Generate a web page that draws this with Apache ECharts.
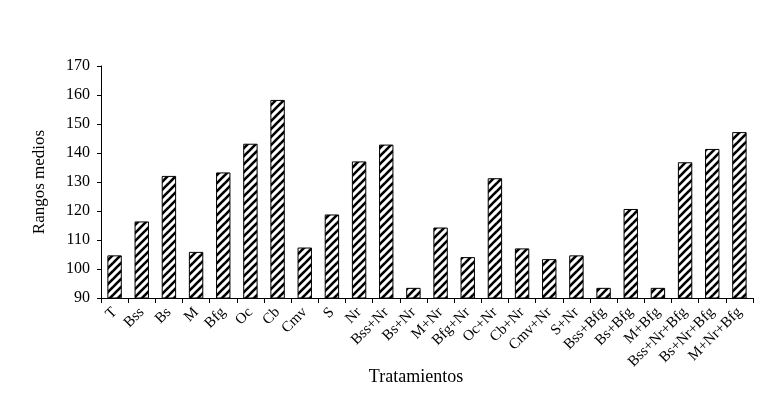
<!DOCTYPE html>
<html><head><meta charset="utf-8">
<script src="https://cdn.jsdelivr.net/npm/echarts@6/dist/echarts.min.js"></script>
<style>html,body{margin:0;padding:0;background:#fff}#c{width:784px;height:398px}</style>
</head><body><div id="c"></div>
<script>
const categories = ["T","Bss","Bs","M","Bfg","Oc","Cb","Cmv","S","Nr","Bss+Nr","Bs+Nr","M+Nr","Bfg+Nr","Oc+Nr","Cb+Nr","Cmv+Nr","S+Nr","Bss+Bfg","Bs+Bfg","M+Bfg","Bss+Nr+Bfg","Bs+Nr+Bfg","M+Nr+Bfg"];
const rangos = [104.7,116.4,132.1,105.9,133.3,143.2,158.3,107.4,118.8,137.1,142.9,93.5,114.3,104.1,131.3,107.1,103.4,104.7,93.5,120.7,93.5,136.8,141.4,147.2];
const yTicks = [90,100,110,120,130,140,150,160,170];

const pc = document.createElement('canvas');
pc.width = 8; pc.height = 8;
const g = pc.getContext('2d');
g.fillStyle = '#fff'; g.fillRect(0,0,8,8);
g.strokeStyle = '#000'; g.lineWidth = 2.6;
for (let k = -1; k <= 1; k++) {
  g.beginPath(); g.moveTo(k*8 - 1, 9); g.lineTo(k*8 + 9, -1); g.stroke();
}

const font = '"Liberation Serif", "Times New Roman", serif';
const chart = echarts.init(document.getElementById('c'));
chart.setOption({
  animation: false,
  backgroundColor: '#fff',
  grid: {left: 101, right: 31, top: 66, bottom: 100, containLabel: false, outerBoundsMode: 'none'},
  xAxis: {
    type: 'category', data: categories,
    name: 'Tratamientos', nameLocation: 'middle', nameGap: 70, nameMoveOverlap: false,
    nameTextStyle: {fontFamily: font, fontSize: 18, color: '#000', padding: [0, 22, 0, 0]},
    axisLine: {lineStyle: {color: '#000', width: 1}},
    axisTick: {show: true, length: 5, lineStyle: {color: '#000'}},
    axisLabel: {rotate: 45, interval: 0, fontFamily: font, fontSize: 15, color: '#000', margin: 12}
  },
  yAxis: {
    type: 'value', min: yTicks[0], max: yTicks[yTicks.length-1], interval: 10,
    name: 'Rangos medios', nameLocation: 'middle', nameGap: 53, nameMoveOverlap: false,
    nameTextStyle: {fontFamily: font, fontSize: 17, color: '#000'},
    axisLine: {show: true, lineStyle: {color: '#000', width: 1}},
    axisTick: {show: true, length: 4, lineStyle: {color: '#000'}},
    splitLine: {show: false},
    axisLabel: {fontFamily: font, fontSize: 16, color: '#000', margin: 11}
  },
  series: [{
    type: 'bar', data: rangos, barCategoryGap: '47%',
    itemStyle: {color: {image: pc, repeat: 'repeat'}, borderColor: '#000', borderWidth: 1}
  }]
});
</script></body></html>
